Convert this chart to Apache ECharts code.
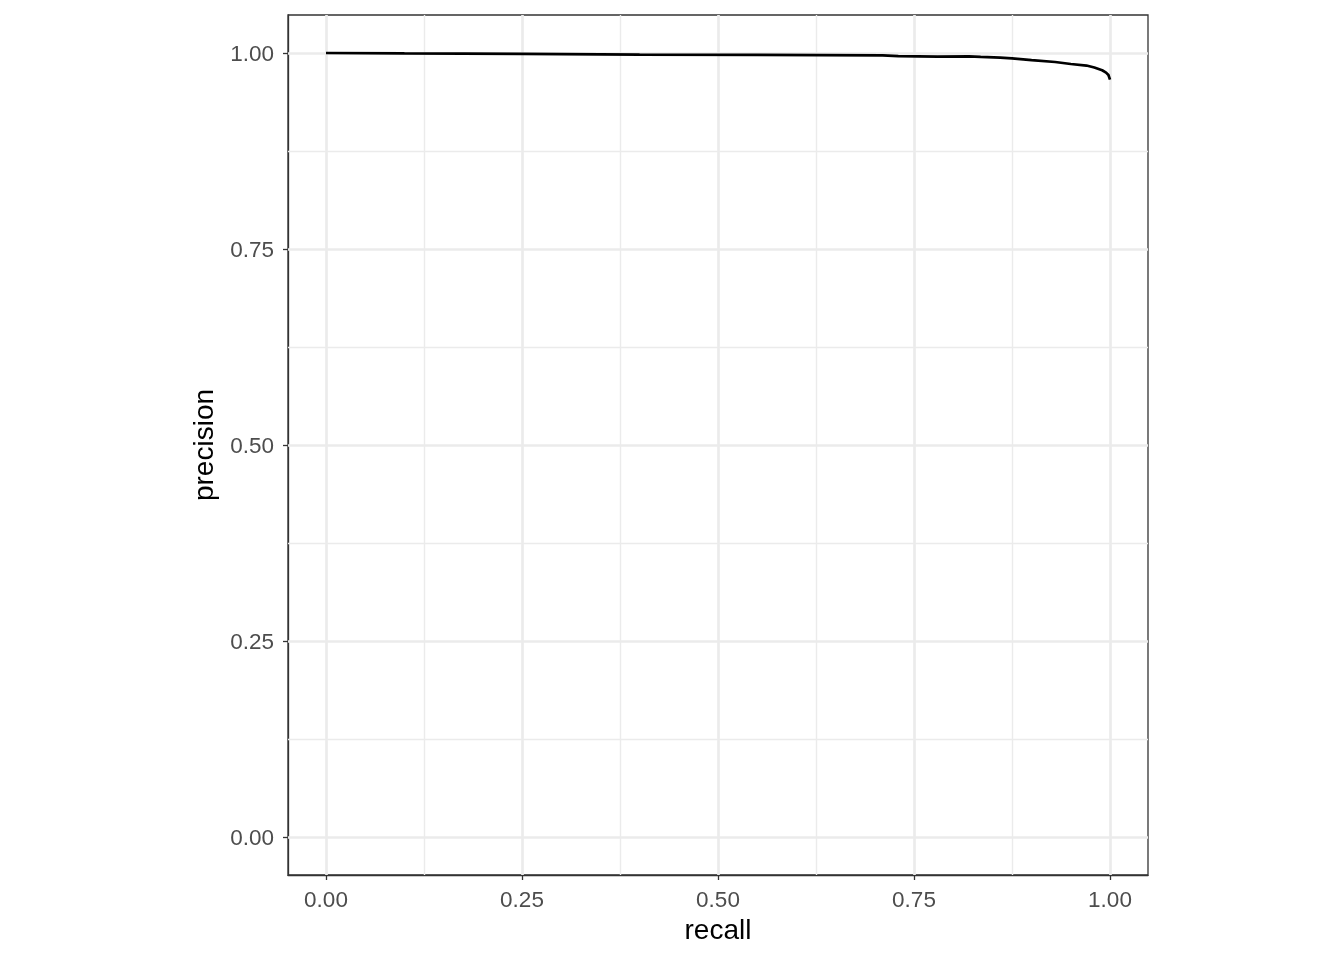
<!DOCTYPE html>
<html>
<head>
<meta charset="utf-8">
<script src="https://cdn.jsdelivr.net/npm/echarts@6/dist/echarts.min.js"></script>
<style>html,body{margin:0;padding:0;background:#fff}#c{width:1344px;height:960px}</style>
</head>
<body>
<div id="c"></div>
<script>
const recall = [0, 0.1, 0.25, 0.4, 0.55, 0.71, 0.73, 0.78, 0.82, 0.835, 0.86, 0.875, 0.9, 0.93, 0.95, 0.97, 0.98, 0.99, 0.995, 0.998, 1.0];
const precision = [1.0, 0.9995, 0.999, 0.998, 0.9975, 0.997, 0.996, 0.9955, 0.9958, 0.995, 0.994, 0.9932, 0.991, 0.9885, 0.986, 0.984, 0.9815, 0.978, 0.975, 0.972, 0.966];
const majorTicks = [0, 0.25, 0.5, 0.75, 1.0];
const minorTicks = [0.125, 0.375, 0.625, 0.875];
const tickLabels = ['0.00', '0.25', '0.50', '0.75', '1.00'];

const chart = echarts.init(document.getElementById('c'), null, {renderer: 'canvas'});
const lo = -38 / 784, hi = 1 + 38 / 784;
const fmt = v => { const i = majorTicks.findIndex(t => Math.abs(t - v) < 1e-9); return i >= 0 ? tickLabels[i] : ''; };
const fmtY = v => { const s = fmt(v); return s ? '{a|' + s + '}' : ''; };
const gridLine = (w) => ({ lineStyle: { color: '#ebebeb', width: w, type: 'solid' } });
const markData = [];
minorTicks.forEach(v => { markData.push(Object.assign({ xAxis: v }, gridLine(1.4))); markData.push(Object.assign({ yAxis: v }, gridLine(1.4))); });
majorTicks.forEach(v => { markData.push(Object.assign({ xAxis: v }, gridLine(2.7))); markData.push(Object.assign({ yAxis: v }, gridLine(2.7))); });

const font = 'Liberation Sans, Arial, sans-serif';
const axisCommon = {
  type: 'value', min: lo, max: hi,
  splitLine: { show: false },
  axisLine: { show: true, onZero: false, lineStyle: { color: '#333333', width: 1.3 } },
  axisTick: { show: true, customValues: majorTicks, length: 5, lineStyle: { color: '#333333', width: 1.3 } },
  axisLabel: { customValues: majorTicks, formatter: fmt, color: '#4d4d4d', fontSize: 22.5, fontFamily: font },
  nameLocation: 'middle',
  nameTextStyle: { color: '#000', fontSize: 28, fontFamily: font }
};

chart.setOption({
  animation: false,
  backgroundColor: '#ffffff',
  grid: { left: 288, right: 196, top: 15, bottom: 85, show: true, borderColor: '#333333', borderWidth: 1.3, backgroundColor: 'transparent', containLabel: false },
  xAxis: Object.assign({}, axisCommon, { name: 'recall', nameGap: 40, axisLabel: Object.assign({}, axisCommon.axisLabel, { margin: 14 }) }),
  yAxis: Object.assign({}, axisCommon, { name: 'precision', nameGap: 68, axisLabel: Object.assign({}, axisCommon.axisLabel, { margin: 14, formatter: fmtY, rich: { a: { color: '#4d4d4d', fontSize: 22.5, fontFamily: font, padding: [4, 0, 0, 0] } } }) }),
  series: [{
    type: 'line',
    data: recall.map((r, i) => [r, precision[i]]),
    showSymbol: false,
    smooth: false,
    lineStyle: { color: '#000000', width: 2.7 },
    z: 5,
    markLine: { silent: true, symbol: 'none', precision: 6, label: { show: false }, data: markData, z: 1, animation: false }
  }]
});
</script>
</body>
</html>
